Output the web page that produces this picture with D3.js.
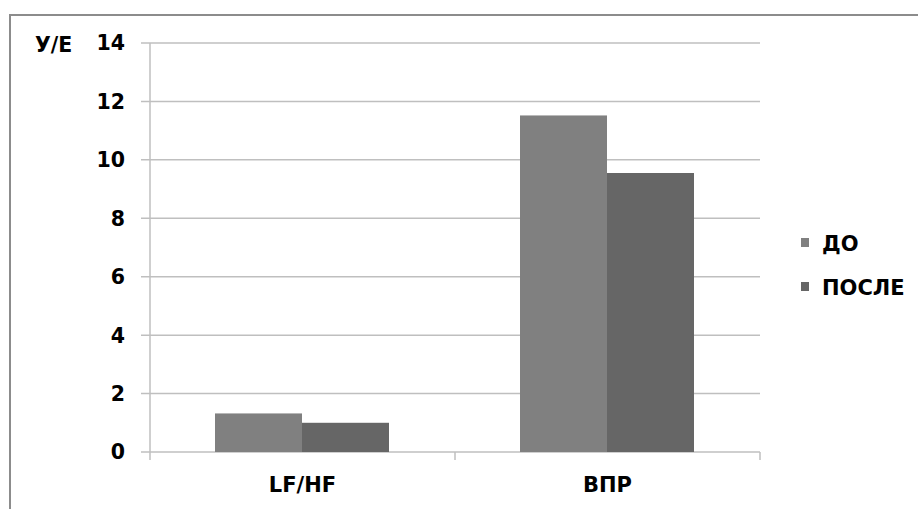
<!DOCTYPE html>
<html><head><meta charset="utf-8">
<script src="https://cdn.jsdelivr.net/npm/d3@7"></script>
<style>body{margin:0;background:#fff}svg{display:block}text{font-family:"DejaVu Sans",sans-serif;font-weight:bold;fill:#000}</style>
</head><body><svg id="c" width="918" height="509"></svg>
<script>
const categories = ["LF/HF", "ВПР"];
const seriesNames = ["ДО", "ПОСЛЕ"];
const seriesDo = [1.32, 11.52];
const seriesPosle = [1.0, 9.55];
const yTicks = [0, 2, 4, 6, 8, 10, 12, 14];
const colors = ["#808080", "#666666"];

(function () {
const svg = d3.select("#c");
svg.append("rect").attr("x", 10).attr("y", 15).attr("width", 920).attr("height", 510)
  .attr("fill", "none").attr("stroke", "#8c8c8c").attr("stroke-width", 2);

const pLeft = 150, pRight = 760, pTop = 43, pBottom = 452;
const x = d3.scaleBand().domain(categories).range([pLeft, pRight]).padding(0);
const xs = d3.scaleBand().domain(seriesNames).range([65, 239]).padding(0);
const y = d3.scaleLinear().domain([0, 14]).range([pBottom, pTop]);

// gridlines
svg.append("g").selectAll("line").data(yTicks).join("line")
  .attr("x1", pLeft - 9).attr("x2", pRight).attr("y1", d => y(d)).attr("y2", d => y(d))
  .attr("stroke", "#bfbfbf").attr("stroke-width", 1.5);
// y axis line
svg.append("line").attr("x1", pLeft).attr("x2", pLeft).attr("y1", pTop).attr("y2", pBottom)
  .attr("stroke", "#bfbfbf").attr("stroke-width", 1.5);
// y labels
svg.append("g").selectAll("text").data(yTicks).join("text")
  .attr("x", 125).attr("y", d => y(d)).attr("dy", "0.36em").attr("text-anchor", "end")
  .style("font-size", "20.5px").text(d => d);

// x ticks
const xTickPos = [pLeft, ...categories.map(c => x(c) + x.bandwidth())];
svg.append("g").selectAll("line").data(xTickPos).join("line")
  .attr("x1", d => d).attr("x2", d => d).attr("y1", pBottom).attr("y2", pBottom + 8)
  .attr("stroke", "#bfbfbf").attr("stroke-width", 1.5);

// bars
const data = categories.map((c, i) => ({c, vals: [seriesDo[i], seriesPosle[i]]}));
const g = svg.append("g");
data.forEach(d => {
  d.vals.forEach((v, j) => {
    g.append("rect").attr("x", x(d.c) + xs(seriesNames[j])).attr("width", xs.bandwidth())
      .attr("y", y(v)).attr("height", y(0) - y(v)).attr("fill", colors[j]);
  });
});

// x labels
svg.append("g").selectAll("text").data(categories).join("text")
  .attr("x", c => x(c) + x.bandwidth() / 2).attr("y", 492).attr("text-anchor", "middle")
  .style("font-size", "21px").text(c => c);

// unit
svg.append("text").attr("x", 35).attr("y", 52).style("font-size", "20.5px").text("У/Е");

// legend
const leg = svg.append("g");
seriesNames.forEach((s, i) => {
  const yy = 243 + i * 44;
  leg.append("rect").attr("x", 801).attr("y", yy - 5).attr("width", 8).attr("height", 9).attr("fill", colors[i]);
  leg.append("text").attr("x", 822).attr("y", yy).attr("dy", "0.36em").style("font-size", "21px").text(s);
});
})();
</script></body></html>
